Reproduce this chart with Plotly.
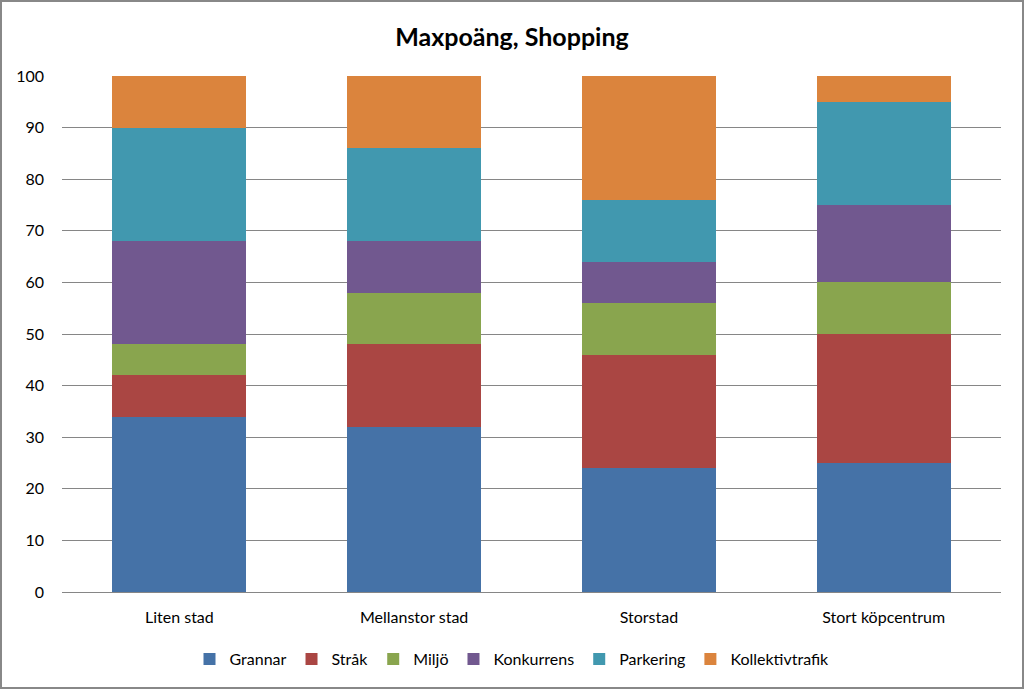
import plotly.graph_objects as go

categories = ["Liten stad", "Mellanstor stad", "Storstad", "Stort köpcentrum"]
series_names = ["Grannar", "Stråk", "Miljö", "Konkurrens", "Parkering", "Kollektivtrafik"]
grannar = [34, 32, 24, 25]
strak = [8, 16, 22, 25]
miljo = [6, 10, 10, 10]
konkurrens = [20, 10, 8, 15]
parkering = [22, 18, 12, 20]
kollektivtrafik = [10, 14, 24, 5]
colors = ["#4572A7", "#AA4643", "#89A54E", "#71588F", "#4198AF", "#DB843D"]
y_ticks = list(range(0, 101, 10))

values = [grannar, strak, miljo, konkurrens, parkering, kollektivtrafik]

fig = go.Figure()
for name, vals, col in zip(series_names, values, colors):
    fig.add_trace(go.Bar(x=categories, y=vals, name=name, marker=dict(color=col, line=dict(width=0))))

L, R, T, B = 62, 23, 76, 97
W, H = 1024, 689
pw, ph = W - L - R, H - T - B

fig.update_layout(
    barmode="stack",
    bargap=0.43,
    width=W, height=H,
    margin=dict(l=L, r=R, t=T, b=B),
    paper_bgcolor="white", plot_bgcolor="white",
    font=dict(family="Lato, 'Open Sans', sans-serif", size=16, color="#000000"),
    title=dict(text="<b>Maxpoäng, Shopping</b>", x=0.5, xanchor="center", y=1 - 37 / H, yanchor="middle",
               font=dict(size=25, color="#000000")),
    showlegend=True,
    legend=dict(orientation="h", x=(512 - L) / pw, xanchor="center", y=(H - B - 659) / ph, yanchor="middle",
                font=dict(size=16), traceorder="normal", itemwidth=30, tracegroupgap=0),
    xaxis=dict(showline=True, linecolor="#868686", linewidth=1, ticks="", tickfont=dict(size=16),
               showgrid=False, ticklabelstandoff=11),
    yaxis=dict(range=[0, 100], tickvals=y_ticks, showgrid=True, gridcolor="#868686", gridwidth=1,
               zeroline=False, showline=False, ticks="", tickfont=dict(size=16), ticklabelstandoff=17),
    shapes=[dict(type="rect", xref="paper", yref="paper",
                 x0=(1 - L) / pw, x1=(W - 1 - L) / pw,
                 y0=(H - B - (H - 1)) / ph, y1=(H - B - 1) / ph,
                 line=dict(color="#888888", width=2), fillcolor="rgba(0,0,0,0)")],
)

fig.write_html("out.html")
